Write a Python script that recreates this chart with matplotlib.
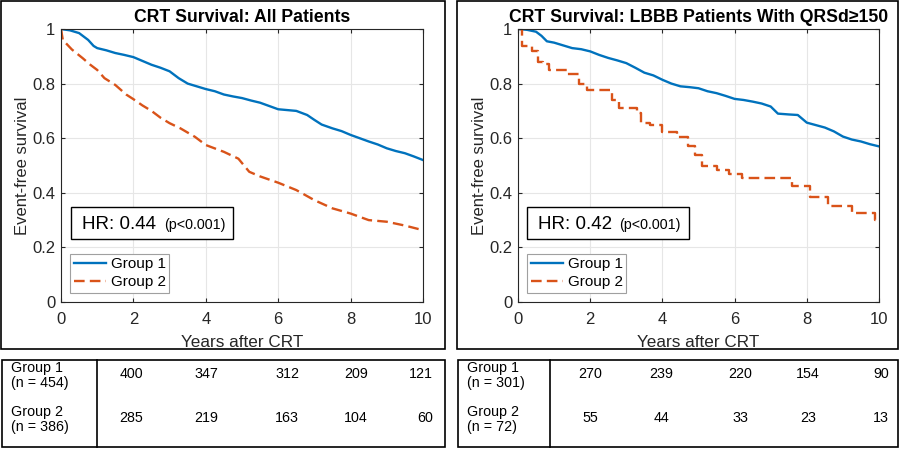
import numpy as np
import matplotlib.pyplot as plt
from matplotlib.patches import Rectangle

plt.rcParams['font.family'] = ['Liberation Sans', 'DejaVu Sans']

# survival curves (years, survival)
t_all_g1 = [0, 0.25, 0.5, 0.75, 0.9, 1.0, 1.25, 1.5, 1.75, 2.0, 2.25, 2.5, 2.75, 3.0, 3.25, 3.5,
            3.75, 4.0, 4.25, 4.5, 4.75, 5.0, 5.25, 5.5, 5.75, 6.0, 6.25, 6.5, 6.8, 7.0, 7.2,
            7.5, 7.75, 8.0, 8.25, 8.5, 8.75, 9.0, 9.25, 9.5, 9.75, 10.0]
s_all_g1 = [1.0, 0.995, 0.985, 0.96, 0.938, 0.93, 0.922, 0.912, 0.905, 0.897, 0.883, 0.869, 0.858,
            0.845, 0.82, 0.80, 0.79, 0.78, 0.772, 0.76, 0.753, 0.747, 0.738, 0.73, 0.718, 0.706,
            0.703, 0.70, 0.685, 0.667, 0.65, 0.636, 0.626, 0.612, 0.60, 0.588, 0.577, 0.563,
            0.553, 0.545, 0.533, 0.52]
t_all_g2 = [0, 0.05, 0.3, 0.6, 0.8, 1.0, 1.2, 1.5, 1.8, 2.0, 2.25, 2.5, 2.75, 3.0, 3.3, 3.7, 4.0,
            4.5, 4.9, 5.2, 5.5, 6.0, 6.5, 7.0, 7.5, 8.0, 8.5, 9.0, 9.5, 10.0]
s_all_g2 = [1.0, 0.96, 0.925, 0.893, 0.87, 0.85, 0.82, 0.795, 0.76, 0.743, 0.72, 0.70, 0.675,
            0.655, 0.636, 0.605, 0.575, 0.55, 0.525, 0.477, 0.46, 0.437, 0.41, 0.373, 0.343,
            0.324, 0.30, 0.294, 0.28, 0.263]

t_lbbb_g1 = [0, 0.25, 0.5, 0.65, 0.8, 1.0, 1.25, 1.5, 1.75, 2.0, 2.25, 2.5, 2.75, 3.0, 3.25, 3.5,
             3.75, 4.0, 4.25, 4.5, 4.75, 5.0, 5.25, 5.5, 5.75, 6.0, 6.25, 6.5, 6.75, 7.0, 7.2,
             7.5, 7.75, 8.0, 8.25, 8.5, 8.75, 9.0, 9.25, 9.5, 9.75, 10.0]
s_lbbb_g1 = [1.0, 0.997, 0.99, 0.975, 0.955, 0.95, 0.94, 0.93, 0.926, 0.918, 0.905, 0.894, 0.885,
             0.875, 0.858, 0.84, 0.83, 0.814, 0.80, 0.79, 0.787, 0.783, 0.772, 0.765, 0.755,
             0.744, 0.74, 0.734, 0.727, 0.716, 0.69, 0.687, 0.685, 0.657, 0.648, 0.639, 0.625,
             0.606, 0.595, 0.588, 0.578, 0.57]
t_lbbb_g2 = [0, 0.1, 0.4, 0.55, 0.7, 0.85, 1.35, 1.7, 1.9, 2.6, 2.8, 3.3, 3.4, 3.65, 4.0, 4.4,
             4.7, 4.9, 5.1, 5.5, 5.85, 6.2, 7.6, 8.1, 8.6, 9.25, 9.9, 10.0]
s_lbbb_g2 = [1.0, 0.936, 0.918, 0.88, 0.87, 0.85, 0.836, 0.80, 0.777, 0.74, 0.71, 0.692, 0.655,
             0.65, 0.624, 0.606, 0.57, 0.54, 0.50, 0.484, 0.47, 0.453, 0.425, 0.386, 0.35,
             0.325, 0.30, 0.30]

titles = ['CRT Survival: All Patients', 'CRT Survival: LBBB Patients With QRSd\u2265150']
hr_text = ['0.44', '0.42']
group_n = [['454', '386'], ['301', '72']]
at_risk = [[[400, 347, 312, 209, 121], [285, 219, 163, 104, 60]],
           [[270, 239, 220, 154, 90], [55, 44, 33, 23, 13]]]

blue = '#0072BD'
orange = '#D95319'

W, H = 900, 451
fig = plt.figure(figsize=(9, 4.51), dpi=100)


def fx(x):
    return x / W


def fy(y):
    return 1 - y / H


def frame(x0, y0, x1, y1, lw=1.2):
    fig.add_artist(Rectangle((fx(x0), fy(y1)), fx(x1 - x0), (y1 - y0) / H, fill=False,
                             edgecolor='black', linewidth=lw, transform=fig.transFigure))


curves = [(t_all_g1, s_all_g1, t_all_g2, s_all_g2), (t_lbbb_g1, s_lbbb_g1, t_lbbb_g2, s_lbbb_g2)]
step2 = ['default', 'steps-post']
ax_x = [(61, 423), (518, 879)]
panel_x = [(1, 445), (457, 898)]
div_x = [97, 550]
num_x = [[131, 206, 287, 356, 433], [590, 661, 740, 808, 889]]

for i in range(2):
    x0, x1 = ax_x[i]
    ax = fig.add_axes([fx(x0), fy(302), fx(x1 - x0), (302 - 29) / H])
    ta, sa, tb, sb = curves[i]
    ax.plot(ta, sa, color=blue, lw=1.7, label='Group 1')
    ax.plot(tb, sb, color=orange, lw=1.7, ls=(0, (4.5, 2.2)), drawstyle=step2[i], label='Group 2')
    ax.set_xlim(0, 10)
    ax.set_ylim(0, 1)
    ax.set_xticks([0, 2, 4, 6, 8, 10])
    ax.set_yticks([0, 0.2, 0.4, 0.6, 0.8, 1])
    ax.set_yticklabels(['0', '0.2', '0.4', '0.6', '0.8', '1'])
    ax.grid(True, color='#e6e6e6', lw=0.8)
    ax.set_axisbelow(True)
    ax.tick_params(direction='in', length=3, labelsize=12, colors='#262626', pad=4,
                   top=True, right=True)
    ax.tick_params(axis='x', pad=7)
    for sp in ax.spines.values():
        sp.set_color('#262626')
        sp.set_linewidth(0.8)
    ax.set_title(titles[i], fontsize=12.7, fontweight='bold', pad=5)
    ax.set_xlabel('Years after CRT', fontsize=12.3, color='#262626', labelpad=6)
    ax.set_ylabel('Event-free survival', fontsize=12, color='#262626', labelpad=2)

    leg = ax.legend(loc='lower left', bbox_to_anchor=(0.025, 0.033), borderaxespad=0,
                    fontsize=11, fancybox=False, framealpha=1, edgecolor='#a0a0a0',
                    handlelength=2.1, handletextpad=0.3, borderpad=0.25, labelspacing=0.25)
    leg.get_frame().set_linewidth(0.8)

    # HR box
    bx0 = (10 if i == 0 else 9) / (x1 - x0)
    bw = 162 / (x1 - x0)
    ax.add_patch(Rectangle((bx0, (302 - 239) / 273), bw, 32 / 273, transform=ax.transAxes,
                           fill=True, facecolor='white', edgecolor='black', lw=1.0, zorder=5))
    ax.text(bx0 + 0.03, (302 - 229) / 273, 'HR: ' + hr_text[i], transform=ax.transAxes,
            fontsize=13.5, va='baseline', ha='left', zorder=6)
    ax.text(bx0 + 0.256, (302 - 229) / 273, '(p<0.001)', transform=ax.transAxes,
            fontsize=10.3, va='baseline', ha='left', zorder=6)

    # panel frame
    px0, px1 = panel_x[i]
    frame(px0, 1, px1, 349)

    # number-at-risk table
    tx0 = px0 + 1
    frame(tx0, 360, px1, 447)
    fig.add_artist(plt.Line2D([fx(div_x[i]), fx(div_x[i])], [fy(360), fy(447)], color='black',
                              lw=1.2, transform=fig.transFigure))
    for g in range(2):
        yc = 374 + g * 44
        fig.text(fx(tx0 + 9), fy(yc - 6), 'Group %d' % (g + 1), fontsize=10.3, va='center')
        fig.text(fx(tx0 + 9), fy(yc + 9), '(n = %s)' % group_n[i][g], fontsize=10.3, va='center')
        for k in range(5):
            ha = 'center' if k < 4 else 'right'
            fig.text(fx(num_x[i][k]), fy(yc), str(at_risk[i][g][k]), fontsize=10.3,
                     va='center', ha=ha)

fig.savefig('out.png', dpi=100)
